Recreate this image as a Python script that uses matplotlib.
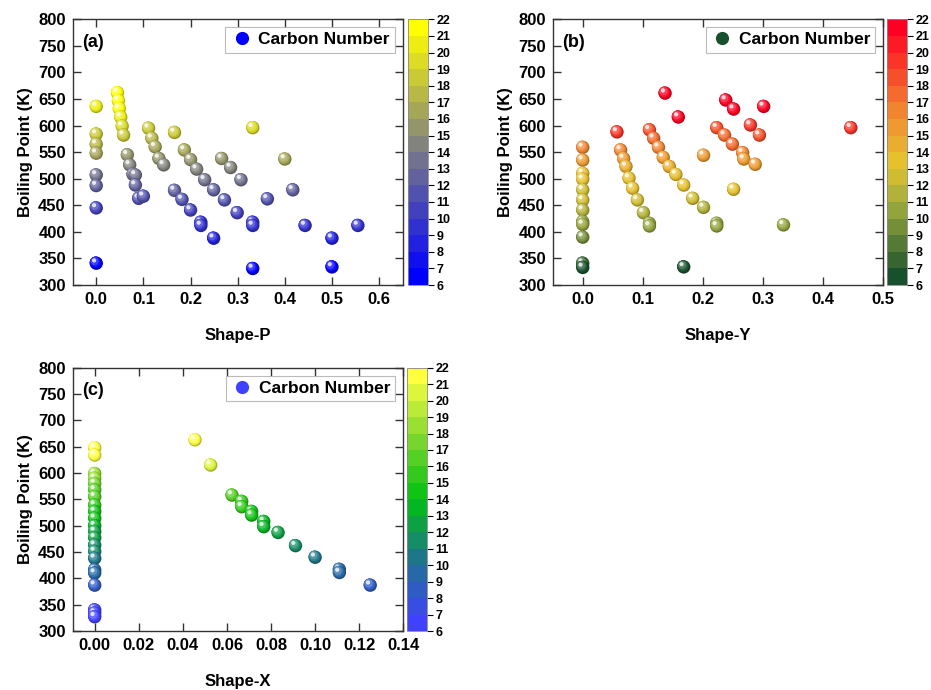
import numpy as np
import matplotlib
matplotlib.use("Agg")
import matplotlib.pyplot as plt
from matplotlib.colors import LinearSegmentedColormap, BoundaryNorm, to_rgb
from matplotlib.transforms import ScaledTranslation
from matplotlib.lines import Line2D
import matplotlib.cm as cm

plt.rcParams['font.family'] = ['Liberation Sans', 'DejaVu Sans']
plt.rcParams['font.weight'] = 'bold'

# ---------------- data ----------------
# panel (a): Shape-P
a_x = [0, 0, 0, 0, 0, 0, 0, 0,
       0.045, 0.047, 0.049, 0.052, 0.055, 0.058, 0.066, 0.071, 0.078, 0.083, 0.083, 0.090, 0.100,
       0.111, 0.118, 0.125, 0.133, 0.143,
       0.166, 0.166, 0.182, 0.187, 0.200, 0.200, 0.213, 0.222, 0.222, 0.230, 0.249, 0.249,
       0.266, 0.272, 0.285, 0.299, 0.307, 0.332, 0.332, 0.332, 0.332,
       0.363, 0.400, 0.417, 0.443, 0.500, 0.500, 0.555]
a_y = [636, 584, 565, 548, 507, 487, 445, 341,
       662, 647, 632, 616, 599, 582, 545, 526, 508, 507, 488, 463, 467,
       595, 576, 560, 538, 526,
       587, 478, 461, 554, 536, 441, 518, 418, 412, 498, 479, 388,
       538, 460, 521, 436, 498, 596, 418, 412, 331,
       462, 537, 479, 412, 388, 334, 412]
a_c = [20, 18, 17, 16, 13, 12, 10, 6,
       22, 21, 21, 20, 19, 18, 15, 14, 13, 13, 12, 11, 11,
       18, 17, 16, 15, 14,
       18, 12, 11, 16, 15, 10, 14, 9, 9, 13, 12, 8,
       15, 11, 14, 10, 13, 19, 9, 9, 6,
       11, 16, 12, 9, 8, 6, 9]

# panel (b): Shape-Y
b_x = [0, 0, 0, 0, 0, 0, 0, 0, 0, 0, 0, 0,
       0.057, 0.063, 0.068, 0.072, 0.077, 0.083, 0.091, 0.101, 0.111, 0.111,
       0.111, 0.118, 0.126, 0.134, 0.144, 0.155, 0.168, 0.183, 0.201, 0.223, 0.223,
       0.137, 0.159, 0.238, 0.251, 0.301, 0.446,
       0.223, 0.236, 0.249, 0.266, 0.268, 0.287, 0.279, 0.294,
       0.201, 0.251, 0.168, 0.334]
b_y = [559, 535, 510, 499, 479, 460, 441, 419, 414, 390, 341, 333,
       588, 554, 538, 523, 501, 482, 460, 436, 416, 411,
       592, 576, 559, 540, 523, 508, 488, 463, 446, 416, 411,
       661, 616, 648, 631, 636, 596,
       596, 582, 565, 549, 537, 527, 601, 582,
       544, 480, 334, 413]
b_c = [16, 15, 13, 13, 12, 12, 11, 10, 10, 9, 7, 6,
       19, 16, 15, 14, 13, 13, 12, 11, 10, 10,
       18, 17, 16, 15, 14, 13, 13, 12, 11, 10, 10,
       22, 21, 22, 21, 21, 19,
       18, 17, 17, 16, 15, 15, 19, 18,
       15, 13, 6, 10]

# panel (c): Shape-X
c_x = [0] * 22 + [0.0455, 0.0526, 0.0623, 0.0667, 0.0667, 0.0712, 0.0712, 0.0767, 0.0767,
                  0.0832, 0.0911, 0.100, 0.111, 0.111, 0.125]
c_y = [648, 634, 599, 590, 580, 568, 555, 539, 527, 514, 500, 489, 477, 463, 451, 438,
       416, 410, 387, 340, 334, 327,
       663, 615, 558, 546, 536, 527, 520, 508, 498, 487, 462, 440, 417, 411, 387]
c_c = [22, 21, 18, 18, 17, 16, 16, 15, 14, 14, 13, 12, 12, 11, 11, 10,
       9, 9, 8, 6, 6, 6,
       22, 20, 16, 15, 15, 14, 14, 13, 13, 12, 11, 10, 9, 9, 8]

c_levels = list(range(6, 23))
y_ticks = list(range(300, 801, 50))

# ---------------- colormaps ----------------
cmap_a = LinearSegmentedColormap.from_list('a', ['#0000ff', '#7a7a86', '#ffff00'], N=16)
cmap_b = LinearSegmentedColormap.from_list(
    'b', [(0.0, '#17502c'), (0.28, '#9aa83e'), (0.45, '#e6c52e'),
          (0.65, '#f08c30'), (1.0, '#ff0022')], N=16)
cmap_c = LinearSegmentedColormap.from_list(
    'c', [(0.0, '#4040ff'), (0.27, '#1e7888'), (0.5, '#00c010'),
          (0.75, '#80d830'), (1.0, '#ffff40')], N=16)
norm = BoundaryNorm(c_levels, 16)

fig = plt.figure(figsize=(9.31, 6.90), dpi=100)

W, H = 931.0, 690.0
def fax(l, r, t, b):
    return [l / W, 1 - b / H, (r - l) / W, (b - t) / H]

panels = [
    dict(rect=fax(72.7, 402.7, 19.3, 285), cb=fax(407.7, 428, 19.3, 285),
         x=a_x, y=a_y, c=a_c, cmap=cmap_a, xlim=(-0.05, 0.65),
         xticks=np.arange(0, 0.61, 0.1), fmt='%.1f', xlabel='Shape-P', tag='(a)',
         leg='#0000ff'),
    dict(rect=fax(552.7, 883.3, 19.3, 285), cb=fax(887.3, 907.3, 19.3, 285),
         x=b_x, y=b_y, c=b_c, cmap=cmap_b, xlim=(-0.05, 0.5),
         xticks=np.arange(0, 0.51, 0.1), fmt='%.1f', xlabel='Shape-Y', tag='(b)',
         leg='#17502c'),
    dict(rect=fax(72.7, 403.3, 367.7, 631), cb=fax(407.3, 427.3, 367.7, 631),
         x=c_x, y=c_y, c=c_c, cmap=cmap_c, xlim=(-0.01, 0.14),
         xticks=np.arange(0, 0.141, 0.02), fmt='%.2f', xlabel='Shape-X', tag='(c)',
         leg='#4040ff'),
]


def mix(col, f):
    col = np.array(to_rgb(col))
    if f >= 0:
        return tuple(col + (1 - col) * f)
    return tuple(col * (1 + f))


LAYERS = [(1.00, -0.28, 0.0), (0.82, -0.08, 0.5), (0.60, 0.08, 1.0),
          (0.38, 0.25, 1.5), (0.10, 0.85, 2.0)]


def balls(ax, x, y, c, cmap, s=92):
    for i, (xi, yi, ci) in enumerate(zip(x, y, c)):
        base = cmap(norm(ci))
        for j, (sf, f, off) in enumerate(LAYERS):
            tr = ax.transData + ScaledTranslation(-off * 0.8 / 72, off / 72, fig.dpi_scale_trans)
            ax.scatter([xi], [yi], s=s * sf, color=[mix(base, f)], edgecolors='none',
                       transform=tr, zorder=3 + i * 0.01 + j * 0.001)


for p in panels:
    ax = fig.add_axes(p['rect'])
    balls(ax, p['x'], p['y'], p['c'], p['cmap'])
    ax.set_xlim(*p['xlim'])
    ax.set_ylim(300, 800)
    ax.set_yticks(y_ticks)
    ax.set_xticks(p['xticks'])
    ax.set_xticklabels([p['fmt'] % v for v in p['xticks']])
    ax.tick_params(direction='in', top=True, right=True, length=6, width=1,
                   labelsize=12, color='#333333', pad=5)
    for lab in ax.get_xticklabels() + ax.get_yticklabels():
        lab.set_fontweight('bold')
    for sp in ax.spines.values():
        sp.set_color('#333333')
        sp.set_linewidth(1.0)
    ax.set_xlabel(p['xlabel'], fontsize=12, fontweight='bold', labelpad=15)
    ax.set_ylabel('Boiling Point (K)', fontsize=12, fontweight='bold', labelpad=4)
    ax.text(0.03, 0.945, p['tag'], transform=ax.transAxes, fontsize=13,
            fontweight='bold', va='top', ha='left')
    h = Line2D([], [], marker='o', linestyle='none', markersize=9.5,
               markerfacecolor=p['leg'], markeredgecolor='none')
    lg = ax.legend([h], ['Carbon Number'], loc='upper right',
                   prop={'weight': 'bold', 'size': 12.5}, frameon=True, fancybox=False,
                   borderpad=0.3, handletextpad=0.3, handlelength=1.3,
                   borderaxespad=0.45)
    lg.get_frame().set_edgecolor('#aaaaaa')
    lg.get_frame().set_linewidth(0.8)

    cax = fig.add_axes(p['cb'])
    sm = cm.ScalarMappable(norm=norm, cmap=p['cmap'])
    cb = fig.colorbar(sm, cax=cax, ticks=c_levels)
    cb.outline.set_linewidth(0.6)
    cb.outline.set_edgecolor('#888888')
    cax.tick_params(direction='out', length=4, width=0.8, labelsize=9, pad=2)
    for lab in cax.get_yticklabels():
        lab.set_fontweight('bold')

fig.savefig('out.png', dpi=100)
